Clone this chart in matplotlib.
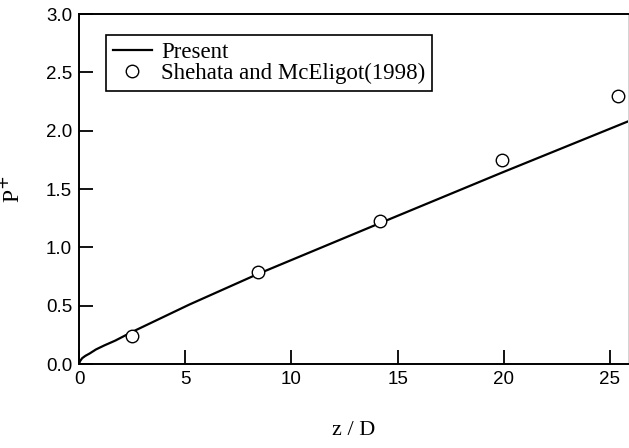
import numpy as np
import matplotlib
matplotlib.use("Agg")
import matplotlib.pyplot as plt

# Curva calculada (presente trabajo)
z_pres = [0.0, 0.05, 0.15, 0.3, 0.5, 0.8, 1.2, 1.7, 2.5, 5.2, 8.4, 14.2, 19.9, 25.85]
p_pres = [0.0, 0.025, 0.05, 0.07, 0.09, 0.125, 0.16, 0.20, 0.275, 0.51, 0.77, 1.21, 1.64, 2.08]

# Datos experimentales de Shehata y McEligot (1998)
z_exp = [2.5, 8.45, 14.15, 19.9, 25.4]
p_exp = [0.24, 0.79, 1.23, 1.75, 2.30]

xticks = [0, 5, 10, 15, 20, 25]
yticks = [0.0, 0.5, 1.0, 1.5, 2.0, 2.5, 3.0]

fig = plt.figure(figsize=(6.29, 4.48), dpi=100)
ax = fig.add_axes([0.1256, 0.1875, 0.8728, 0.781])

ax.plot(z_pres, p_pres, color="black", lw=1.6, label="Present")
ax.plot(z_exp, p_exp, linestyle="none", marker="o", ms=9, mfc="white",
        mec="black", mew=1.0, label="Shehata and McEligot(1998)")

ax.set_xlim(0, 25.85)
ax.set_ylim(0, 3.0)
ax.set_xticks(xticks)
ax.set_yticks(yticks)
ax.set_xticklabels([str(t) for t in xticks], family="Liberation Sans", fontsize=13.5)
ax.set_yticklabels([f"{t:.1f}" for t in yticks], family="Liberation Sans", fontsize=13.5)
ax.tick_params(direction="in", length=10, width=1.3, top=False, right=False, pad=5)

for s in ["left", "bottom", "top"]:
    ax.spines[s].set_linewidth(1.4)
ax.spines["right"].set_color("#cccccc")
ax.spines["right"].set_linewidth(0.6)

ax.set_xlabel("z / D", family="Liberation Serif", fontsize=16, labelpad=24)
ax.set_ylabel("P$^{+}$", family="Liberation Serif", fontsize=17)
ax.yaxis.set_label_coords(-0.1, 0.5)

leg = ax.legend(loc="upper left", bbox_to_anchor=(0.049, 0.94), borderaxespad=0,
                prop={"family": "Liberation Serif", "size": 16.5},
                handlelength=1.7, handletextpad=0.4, labelspacing=0.0,
                borderpad=0.3, fancybox=False, framealpha=1, edgecolor="black")
leg.get_frame().set_linewidth(1.2)

fig.savefig("out.png", dpi=100)
